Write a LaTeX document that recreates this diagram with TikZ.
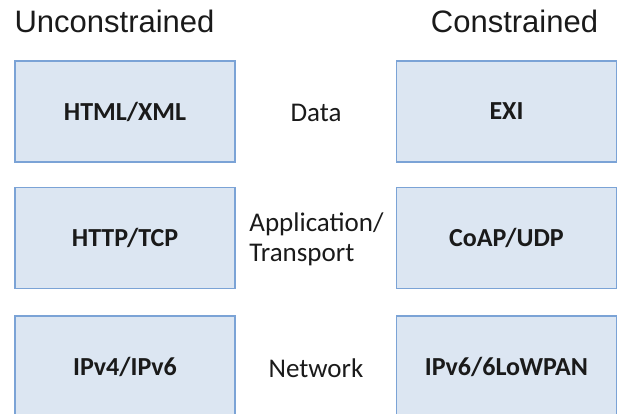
\documentclass[tikz,border=0pt]{standalone}
\usepackage{fontspec}
\setmainfont{Carlito}
\newfontfamily\headfont{Liberation Sans}
\definecolor{layerfill}{HTML}{DCE6F2}
\definecolor{layerline}{HTML}{7BA3D6}
\definecolor{inkcol}{HTML}{1A1A1A}

\begin{document}
\begin{tikzpicture}[x=1pt,y=-1pt,
    layer/.style={draw=layerline, line width=1.6pt, fill=layerfill,
      minimum width=220pt, minimum height=101pt, text=inkcol,
      font=\fontsize{26}{30}\selectfont\bfseries},
    tag/.style={text=inkcol, align=left, font=\fontsize{27}{30}\selectfont},
    head/.style={text=inkcol, anchor=base, font=\headfont\fontsize{31}{36}\selectfont}]
  \useasboundingbox (0,0) rectangle (619,414);
  \clip (0,0) rectangle (619,414);

  % column titles
  \node[head] (uncons) at (114.5,33) {Unconstrained};
  \node[head] (cons) at (514.5,33) {Constrained};

  % left stack
  \node[layer] (html) at (125,111.5) {HTML/XML};
  \node[layer] (http) at (125,238) {HTTP/TCP};
  \node[layer] (ipv4) at (125,366.5) {IPv4/IPv6};

  % right stack
  \node[layer] (exi) at (506.5,111.5) {EXI};
  \node[layer] (coap) at (506.5,238) {CoAP/UDP};
  \node[layer] (lowpan) at (506.5,366.5) {IPv6/6LoWPAN};

  % layer names in between
  \node[tag] (data) at (316,113) {Data};
  \node[tag] (apptr) at (316.5,239) {Application/\\Transport};
  \node[tag] (net) at (316,368) {Network};
\end{tikzpicture}
\end{document}
